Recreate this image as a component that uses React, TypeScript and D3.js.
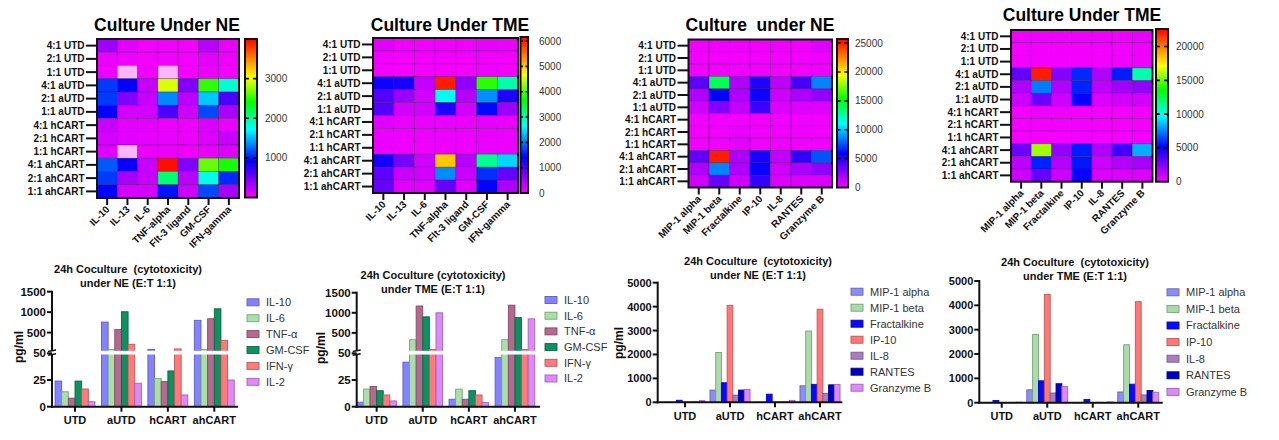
import React, { useRef, useEffect } from 'react';
import * as d3 from 'd3';

const FONT = "Arial, 'Liberation Sans', sans-serif";

// heatmap rows / columns
const rowLabels = [
  '4:1 UTD', '2:1 UTD', '1:1 UTD',
  '4:1 aUTD', '2:1 aUTD', '1:1 aUTD',
  '4:1 hCART', '2:1 hCART', '1:1 hCART',
  '4:1 ahCART', '2:1 ahCART', '1:1 ahCART',
];
const cytoCols = ['IL-10', 'IL-13', 'IL-6', 'TNF-alpha', 'Flt-3 ligand', 'GM-CSF', 'IFN-gamma'];
const chemoCols = ['MIP-1 alpha', 'MIP-1 beta', 'Fractalkine', 'IP-10', 'IL-8', 'RANTES', 'Granzyme B'];

// pg/ml, null = no value (drawn pale pink)
const neCyto: (number | null)[][] = [
  [350, 100, 50, 50, 40, 250, 80],
  [80, 50, 40, 40, 40, 100, 60],
  [60, null, 50, null, 40, 60, 40],
  [1100, 920, 200, 2950, 450, 2520, 1850],
  [1100, 450, 200, 1350, 250, 1550, 650],
  [900, 150, 150, 650, 170, 1150, 300],
  [200, 100, 100, 60, 60, 130, 70],
  [150, 100, 90, 80, 60, 120, 200],
  [110, null, 70, 70, 50, 80, 120],
  [1200, 880, 200, 3950, 450, 2650, 2450],
  [1100, 320, 200, 2100, 250, 1780, 1050],
  [930, 150, 150, 980, 180, 1150, 320],
];
const tmeCyto: (number | null)[][] = [
  [150, 80, 80, 80, 80, 120, 100],
  [70, 60, 60, 70, 60, 80, 70],
  [60, 50, 50, 60, 50, 70, 60],
  [1350, 1300, 330, 6000, 620, 3850, 3000],
  [950, 550, 250, 2700, 400, 2100, 1250],
  [950, 250, 250, 1250, 250, 1450, 550],
  [150, 120, 120, 120, 110, 130, 120],
  [110, 100, 100, 110, 100, 120, 110],
  [100, 90, 90, 100, 90, 110, 100],
  [1300, 750, 250, 5000, 400, 3100, 2450],
  [900, 300, 250, 2100, 300, 1650, 850],
  [850, 180, 180, 850, 180, 1400, 450],
];
const neChemo: (number | null)[][] = [
  [300, 300, 300, 300, 300, 300, 700],
  [250, 250, 250, 250, 250, 250, 350],
  [250, 250, 250, 250, 250, 250, 300],
  [3700, 14000, 1830, 5200, 1480, 4400, 8600],
  [1800, 6000, 1800, 5600, 1100, 1900, 2500],
  [1100, 2900, 1400, 4500, 800, 800, 800],
  [300, 300, 350, 300, 300, 300, 300],
  [300, 300, 500, 300, 300, 300, 300],
  [300, 300, 600, 300, 300, 300, 300],
  [3600, 25000, 1900, 5400, 1400, 4800, 7600],
  [1800, 8600, 1800, 5700, 1100, 2000, 2600],
  [1100, 3500, 1100, 4700, 800, 800, 800],
];
const tmeChemo: (number | null)[][] = [
  [300, 300, 300, 300, 300, 300, 400],
  [250, 250, 250, 250, 250, 250, 300],
  [250, 250, 250, 250, 250, 250, 300],
  [3200, 22000, 2500, 5900, 1600, 5700, 11000],
  [1600, 7400, 1600, 5800, 1300, 1900, 2200],
  [1000, 3000, 1000, 5000, 700, 900, 900],
  [250, 300, 300, 250, 250, 250, 250],
  [250, 250, 250, 250, 250, 250, 250],
  [250, 250, 250, 250, 250, 250, 250],
  [3000, 15800, 2200, 5700, 1600, 3900, 8300],
  [1300, 5800, 1500, 5600, 1000, 1500, 1800],
  [1000, 3100, 1000, 5000, 700, 700, 700],
];

// colour bar ticks
const ticksNeCyto = [1000, 2000, 3000];
const ticksTmeCyto = [0, 1000, 2000, 3000, 4000, 5000, 6000];
const ticksNeChemo = [0, 5000, 10000, 15000, 20000, 25000];
const ticksTmeChemo = [0, 5000, 10000, 15000, 20000];

// bar charts
const groups = ['UTD', 'aUTD', 'hCART', 'ahCART'];
const cytoSeries = ['IL-10', 'IL-6', 'TNF-α', 'GM-CSF', 'IFN-γ', 'IL-2'];
const chemoSeries = ['MIP-1 alpha', 'MIP-1 beta', 'Fractalkine', 'IP-10', 'IL-8', 'RANTES', 'Granzyme B'];

// one row per series, one value per group
const barNeCyto = [
  [24, 757, 90, 800],
  [14, 90, 26.6, 85],
  [8, 573, 23.5, 840],
  [24, 1010, 33.5, 1082],
  [16.6, 215, 100, 313],
  [4.7, 22, 11, 25],
];
const barTmeCyto = [
  [4.2, 41.7, 7, 46],
  [16.5, 330, 16.5, 330],
  [19, 1170, 7, 1190],
  [15, 900, 15, 880],
  [11, 90, 11, 85],
  [5.4, 1000, 4, 850],
];
const barNeChemo = [
  [6, 512, 5, 690],
  [6, 2083, 5, 2980],
  [85, 817, 340, 750],
  [8, 4054, 8, 3890],
  [6, 300, 10, 375],
  [5, 512, 5, 730],
  [70, 540, 80, 750],
];
const barTmeChemo = [
  [5, 530, 5, 440],
  [6, 2800, 6, 2380],
  [90, 900, 130, 760],
  [8, 4450, 6, 4150],
  [6, 400, 15, 320],
  [5, 780, 5, 500],
  [20, 670, 30, 430],
];

const cytoFill = ['#8383ff', '#aadfaa', '#b5698f', '#108f60', '#ff7b7b', '#dd8af8'];
const chemoFill = ['#8c8cf6', '#aadcaa', '#0a0aff', '#ff7878', '#a97dc1', '#0000c4', '#dd8af8'];

const rainbowStops = [0, 0.23, 0.43, 0.6, 0.76, 0.88, 1];
const rainbowColors = ['#ff00ff', '#0000ff', '#00ffff', '#00ff00', '#ffff00', '#ff8000', '#ff0000'];

type Box = [number, number, number, number];
type HeatCfg = {
  id: string;
  title: string;
  tx: number;
  ty: number;
  cols: string[];
  values: (number | null)[][];
  max: number;
  ticks: number[];
  box: Box;
  bar: Box;
  labX: number;
};

const heatmaps: HeatCfg[] = [
  { id: 'h1', title: 'Culture Under NE', tx: 167, ty: 25, cols: cytoCols, values: neCyto, max: 4000, ticks: ticksNeCyto, box: [97, 39, 239, 198], bar: [245, 39, 257, 197.5], labX: 265 },
  { id: 'h2', title: 'Culture Under TME', tx: 450, ty: 25, cols: cytoCols, values: tmeCyto, max: 6160, ticks: ticksTmeCyto, box: [373, 38, 518, 193], bar: [520.5, 37, 528, 193], labX: 539 },
  { id: 'h3', title: 'Culture  under NE', tx: 760, ty: 25, cols: chemoCols, values: neChemo, max: 25700, ticks: ticksNeChemo, box: [688.5, 39.5, 832, 187.5], bar: [837, 39, 848, 187.5], labX: 855 },
  { id: 'h4', title: 'Culture Under TME', tx: 1082, ty: 15, cols: chemoCols, values: tmeChemo, max: 22600, ticks: ticksTmeChemo, box: [1011, 30, 1152.5, 181.7], bar: [1156, 29, 1168, 181.7], labX: 1176 },
];

type BarCfg = {
  title: [string, string];
  tx: number;
  ty: number;
  series: string[];
  values: number[][];
  fills: string[];
  axisX: number;
  xEnd: number;
  baseY: number;
  band: [number, number];
  pad: number;
  broken: boolean;
  topY: number;
  max: number;
  yLab: [number, number] | null;
  legX: number;
  legY: number;
  legStep: number;
};

const bars: BarCfg[] = [
  { title: ['24h Coculture  (cytotoxicity)', 'under NE (E:T 1:1)'], tx: 128, ty: 273, series: cytoSeries, values: barNeCyto, fills: cytoFill, axisX: 52, xEnd: 238, baseY: 406.7, band: [51.8, 237.5], pad: 0.14, broken: true, topY: 291.7, max: 1500, yLab: [18.5, 347], legX: 247, legY: 302.3, legStep: 15.9 },
  { title: ['24h Coculture (cytotoxicity)', 'under TME (E:T 1:1)'], tx: 433, ty: 279, series: cytoSeries, values: barTmeCyto, fills: cytoFill, axisX: 356.7, xEnd: 540, baseY: 406.7, band: [353.6, 538], pad: 0.14, broken: true, topY: 292.7, max: 1500, yLab: [321, 348], legX: 545, legY: 300, legStep: 15.7 },
  { title: ['24h Coculture  (cytotoxicity)', 'under NE (E:T 1:1)'], tx: 758, ty: 264.7, series: chemoSeries, values: barNeChemo, fills: chemoFill, axisX: 657.7, xEnd: 842.3, baseY: 402.3, band: [662.5, 842.5], pad: 0.11, broken: false, topY: 282.7, max: 5000, yLab: [618.5, 343], legX: 851, legY: 291.7, legStep: 16 },
  { title: ['24h Coculture  (cytotoxicity)', 'under TME (E:T 1:1)'], tx: 1075, ty: 265.7, series: chemoSeries, values: barTmeChemo, fills: chemoFill, axisX: 979.3, xEnd: 1162.7, baseY: 402.7, band: [979, 1161], pad: 0.1, broken: false, topY: 281, max: 5000, yLab: null, legX: 1167, legY: 292.3, legStep: 16.6 },
];

const drawHeatmap = (svg: d3.Selection<SVGSVGElement, unknown, null, undefined>, c: HeatCfg) => {
  const g = svg.append('g').style('font-family', FONT);
  const [bx0, by0, bx1, by1] = c.box;
  const x = d3.scaleBand().domain(c.cols).range([bx0, bx1]);
  const y = d3.scaleBand().domain(rowLabels).range([by0, by1]);
  const color = d3
    .scaleLinear<string>()
    .domain(rainbowStops.map((t) => t * c.max))
    .range(rainbowColors)
    .clamp(true);

  const cells = c.values.flatMap((row, i) => row.map((v, j) => ({ r: rowLabels[i], col: c.cols[j], v })));
  g.append('g')
    .selectAll('rect')
    .data(cells)
    .enter()
    .append('rect')
    .attr('x', (d) => x(d.col) as number)
    .attr('y', (d) => y(d.r) as number)
    .attr('width', x.bandwidth())
    .attr('height', y.bandwidth())
    .attr('fill', (d) => (d.v === null ? '#fbb6fb' : color(d.v)))
    .attr('stroke', 'rgba(40,0,60,0.45)')
    .attr('stroke-width', 0.6);

  g.append('rect')
    .attr('x', bx0).attr('y', by0).attr('width', bx1 - bx0).attr('height', by1 - by0)
    .attr('fill', 'none').attr('stroke', '#111').attr('stroke-width', 2);

  g.append('text')
    .text(c.title)
    .attr('x', c.tx).attr('y', c.ty + 6.3)
    .attr('text-anchor', 'middle')
    .attr('font-size', '17.5px').attr('font-weight', 'bold')
    .style('white-space', 'pre');

  // row axis
  const ry = g.append('g').selectAll('g').data(rowLabels).enter().append('g');
  ry.append('line')
    .attr('x1', bx0 - 11).attr('x2', bx0)
    .attr('y1', (d) => (y(d) as number) + y.bandwidth() / 2)
    .attr('y2', (d) => (y(d) as number) + y.bandwidth() / 2)
    .attr('stroke', '#111').attr('stroke-width', 2);
  ry.append('text')
    .text((d) => d)
    .attr('x', bx0 - 12.5)
    .attr('y', (d) => (y(d) as number) + y.bandwidth() / 2)
    .attr('dy', '0.35em')
    .attr('text-anchor', 'end')
    .attr('font-size', '10px').attr('font-weight', 'bold').attr('fill', '#111');

  // column axis
  const cx = g.append('g').selectAll('g').data(c.cols).enter().append('g');
  cx.append('line')
    .attr('x1', (d) => (x(d) as number) + x.bandwidth() / 2)
    .attr('x2', (d) => (x(d) as number) + x.bandwidth() / 2)
    .attr('y1', by1).attr('y2', by1 + 7)
    .attr('stroke', '#111').attr('stroke-width', 2);
  cx.append('text')
    .text((d) => d)
    .attr('transform', (d) => `translate(${(x(d) as number) + x.bandwidth() / 2 + 3},${by1 + 12}) rotate(-45)`)
    .attr('text-anchor', 'end')
    .attr('font-size', '10px').attr('font-weight', 'bold').attr('fill', '#111');

  // colour bar
  const [cx0, cy0, cx1, cy1] = c.bar;
  const grad = svg.append('defs').append('linearGradient')
    .attr('id', `grad-${c.id}`)
    .attr('x1', 0).attr('y1', 1).attr('x2', 0).attr('y2', 0);
  rainbowStops.forEach((t, i) => {
    grad.append('stop').attr('offset', t).attr('stop-color', rainbowColors[i]);
  });
  g.append('rect')
    .attr('x', cx0).attr('y', cy0).attr('width', cx1 - cx0).attr('height', cy1 - cy0)
    .attr('fill', `url(#grad-${c.id})`)
    .attr('stroke', '#111').attr('stroke-width', 2);
  const cs = d3.scaleLinear().domain([0, c.max]).range([cy1, cy0]);
  const tk = g.append('g').selectAll('g').data(c.ticks).enter().append('g');
  tk.filter((d) => d > 0)
    .append('line')
    .attr('x1', cx0).attr('x2', cx1)
    .attr('y1', (d) => cs(d)).attr('y2', (d) => cs(d))
    .attr('stroke', '#111').attr('stroke-width', 1.6)
    .attr('stroke-dasharray', `${(cx1 - cx0) / 3},${(cx1 - cx0) / 3}`);
  tk.append('text')
    .text((d) => d)
    .attr('x', c.labX).attr('y', (d) => cs(d))
    .attr('dy', '0.35em')
    .attr('font-size', '10px').attr('fill', '#333');
};

const drawBars = (svg: d3.Selection<SVGSVGElement, unknown, null, undefined>, c: BarCfg) => {
  const g = svg.append('g').style('font-family', FONT);
  const x0 = d3.scaleBand().domain(groups).range(c.band).paddingInner(c.pad).paddingOuter(c.pad / 2);
  const x1 = d3.scaleBand().domain(c.series).range([0, x0.bandwidth()]);

  let yv: (v: number) => number;
  let tickVals: number[];
  let lowTop = 0;
  let upBottom = 0;
  if (c.broken) {
    lowTop = c.baseY - 53.4;
    upBottom = lowTop - 2.3;
    const lower = d3.scaleLinear().domain([0, 50]).range([c.baseY, lowTop]);
    const upper = d3.scaleLinear().domain([50, c.max]).range([upBottom, c.topY]);
    yv = (v) => (v <= 50 ? lower(v) : upper(v));
    tickVals = [0, 25, 50, 500, 1000, 1500];
  } else {
    const lin = d3.scaleLinear().domain([0, c.max]).range([c.baseY, c.topY]);
    yv = (v) => lin(v);
    tickVals = lin.ticks(5);
  }

  const cells = c.values.flatMap((row, i) => row.map((v, j) => ({ s: c.series[i], grp: groups[j], v, i })));
  g.append('g')
    .selectAll('rect')
    .data(cells)
    .enter()
    .append('rect')
    .attr('x', (d) => (x0(d.grp) as number) + (x1(d.s) as number))
    .attr('y', (d) => yv(d.v))
    .attr('width', x1.bandwidth())
    .attr('height', (d) => c.baseY - yv(d.v))
    .attr('fill', (d) => c.fills[d.i])
    .attr('stroke', (d) => (d3.color(c.fills[d.i]) as d3.RGBColor).darker(0.9).formatHex())
    .attr('stroke-width', 0.9);

  // axes
  if (c.broken) {
    g.append('rect')
      .attr('x', c.axisX - 6).attr('y', upBottom - 0.2)
      .attr('width', c.xEnd - c.axisX + 6).attr('height', lowTop - upBottom + 1.4)
      .attr('fill', '#fff');
    g.append('line')
      .attr('x1', c.axisX).attr('x2', c.axisX).attr('y1', c.baseY + 1).attr('y2', lowTop + 1.2)
      .attr('stroke', '#111').attr('stroke-width', 2);
    g.append('line')
      .attr('x1', c.axisX).attr('x2', c.axisX).attr('y1', upBottom - 0.2).attr('y2', c.topY - 1)
      .attr('stroke', '#111').attr('stroke-width', 2);
    [upBottom - 0.2, lowTop + 1.2].forEach((yy) => {
      g.append('line')
        .attr('x1', c.axisX - 4).attr('x2', c.axisX + 4)
        .attr('y1', yy + 0.8).attr('y2', yy - 0.8)
        .attr('stroke', '#111').attr('stroke-width', 1.5);
    });
  } else {
    g.append('line')
      .attr('x1', c.axisX).attr('x2', c.axisX).attr('y1', c.baseY + 1).attr('y2', c.topY - 1)
      .attr('stroke', '#111').attr('stroke-width', 2);
  }
  g.append('line')
    .attr('x1', c.axisX - 1).attr('x2', c.xEnd).attr('y1', c.baseY).attr('y2', c.baseY)
    .attr('stroke', '#111').attr('stroke-width', 2);

  const yt = g.append('g').selectAll('g').data(tickVals).enter().append('g');
  yt.append('line')
    .attr('x1', c.axisX - 5).attr('x2', c.axisX)
    .attr('y1', (d) => yv(d)).attr('y2', (d) => yv(d))
    .attr('stroke', '#111').attr('stroke-width', 2);
  yt.append('text')
    .text((d) => d)
    .attr('x', c.axisX - 6).attr('y', (d) => yv(d))
    .attr('dy', '0.36em')
    .attr('text-anchor', 'end')
    .attr('font-size', c.broken ? '11.5px' : '11px').attr('font-weight', 'bold').attr('fill', '#111');

  const xt = g.append('g').selectAll('g').data(groups).enter().append('g');
  xt.append('line')
    .attr('x1', (d) => (x0(d) as number) + x0.bandwidth() / 2)
    .attr('x2', (d) => (x0(d) as number) + x0.bandwidth() / 2)
    .attr('y1', c.baseY).attr('y2', c.baseY + 5)
    .attr('stroke', '#111').attr('stroke-width', 2);
  xt.append('text')
    .text((d) => d)
    .attr('x', (d) => (x0(d) as number) + x0.bandwidth() / 2)
    .attr('y', c.baseY + 17.5)
    .attr('text-anchor', 'middle')
    .attr('font-size', '11px').attr('font-weight', 'bold').attr('fill', '#111');

  if (c.yLab) {
    g.append('text')
      .text('pg/ml')
      .attr('transform', `translate(${c.yLab[0]},${c.yLab[1]}) rotate(-90)`)
      .attr('dy', '0.35em')
      .attr('text-anchor', 'middle')
      .attr('font-size', '12px').attr('font-weight', 'bold').attr('fill', '#111');
  }

  c.title.forEach((t, i) => {
    g.append('text')
      .text(t)
      .attr('x', c.tx).attr('y', c.ty + i * 14)
      .attr('text-anchor', 'middle')
      .attr('font-size', '11px').attr('font-weight', 'bold').attr('fill', '#111')
      .style('white-space', 'pre');
  });

  // legend
  const lg = g.append('g').selectAll('g').data(c.series).enter().append('g')
    .attr('transform', (d, i) => `translate(${c.legX},${c.legY + i * c.legStep})`);
  lg.append('rect')
    .attr('x', 0).attr('y', -3.5).attr('width', 12).attr('height', 7)
    .attr('fill', (d, i) => c.fills[i])
    .attr('stroke', (d, i) => (d3.color(c.fills[i]) as d3.RGBColor).darker(0.9).formatHex())
    .attr('stroke-width', 0.9);
  lg.append('text')
    .text((d) => d)
    .attr('x', 19).attr('y', 0).attr('dy', '0.36em')
    .attr('font-size', '11px').attr('fill', '#333');
};

const App = () => {
  const ref = useRef<SVGSVGElement>(null);

  useEffect(() => {
    if (!ref.current) return;
    const svg = d3.select(ref.current);
    svg.selectAll('*').remove();
    heatmaps.forEach((h) => drawHeatmap(svg, h));
    bars.forEach((b) => drawBars(svg, b));
  }, []);

  return (
    <svg
      ref={ref}
      width={1279}
      height={440}
      style={{ position: 'absolute', left: 0, top: 0, background: '#fff' }}
    />
  );
};

export default App;
